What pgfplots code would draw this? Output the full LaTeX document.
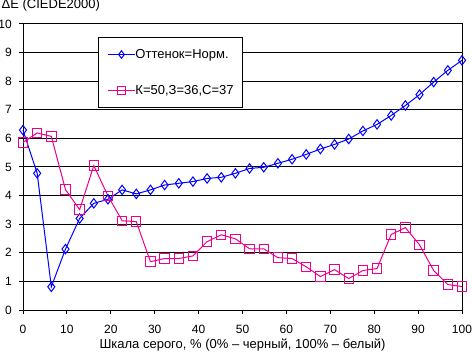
\documentclass[border=0pt]{standalone}
\usepackage{fontspec}
\setmainfont{Liberation Sans}
\usepackage{pgfplots}
\pgfplotsset{compat=1.18}
\usepackage{pgfplotstable}

\pgfplotstableread{
x y
0.000 6.29
3.226 4.78
6.452 0.81
9.677 2.13
12.903 3.20
16.129 3.73
19.355 3.87
22.581 4.20
25.806 4.06
29.032 4.20
32.258 4.37
35.484 4.43
38.710 4.49
41.935 4.60
45.161 4.64
48.387 4.78
51.613 4.95
54.839 4.99
58.065 5.13
61.290 5.27
64.516 5.44
67.742 5.63
70.968 5.79
74.194 5.98
77.419 6.26
80.645 6.49
83.871 6.80
87.097 7.15
90.323 7.53
93.548 7.97
96.774 8.38
100.000 8.73
}\hue

\pgfplotstableread{
x y
0.000 5.86
3.226 6.19
6.452 6.07
9.677 4.21
12.903 3.51
16.129 5.05
19.355 3.99
22.581 3.12
25.806 3.09
29.032 1.69
32.258 1.80
35.484 1.80
38.710 1.89
41.935 2.39
45.161 2.63
48.387 2.49
51.613 2.14
54.839 2.14
58.065 1.83
61.290 1.80
64.516 1.51
67.742 1.17
70.968 1.41
74.194 1.10
77.419 1.38
80.645 1.45
83.871 2.64
87.097 2.88
90.323 2.28
93.548 1.38
96.774 0.89
100.000 0.82
}\kzs

\begin{document}
\begin{tikzpicture}
\path[use as bounding box] (-23bp,-43bp) rectangle (449bp,310bp);
\begin{axis}[
  at={(0,0)}, anchor=south west,
  scale only axis, width=439bp, height=286bp,
  xmin=0, xmax=100, ymin=0, ymax=10,
  xtick={0,10,...,100}, ytick={0,1,...,10},
  ymajorgrids,
  grid style={black, line width=1bp},
  axis line style={black, line width=1bp},
  tick style={black, line width=1bp},
  tick align=outside, major tick length=4bp,
  xtick pos=bottom, ytick pos=left,
  clip=false,
  /pgf/number format/assume math mode=true,
  ticklabel style={font=\fontsize{12bp}{14bp}\selectfont, inner sep=0pt},
  yticklabel style={anchor=east, xshift=-7bp},
  xticklabel style={anchor=north, yshift=-10.5bp},
  title={ΔE (CIEDE2000)},
  title style={at={(axis description cs:0,1)}, anchor=base west, xshift=-21.5bp, yshift=9.5bp, inner sep=0pt, font=\fontsize{13bp}{15bp}\selectfont},
  xlabel={Шкала серого, \% (0\% – черный, 100\% – белый)},
  xlabel style={at={(axis description cs:0.5,0)}, anchor=base, yshift=-38.5bp, inner sep=0pt, font=\fontsize{13bp}{15bp}\selectfont},
  legend cell align=left,
  legend image code/.code={\draw[mark repeat=2,mark phase=2,#1,/tikz/every mark/.append style={scale=0.8}] plot coordinates {(0bp,0bp) (13.5bp,0bp) (27bp,0bp)};},
  legend style={at={(0.1708,0.9545)}, anchor=north west, draw=black, line width=1bp, fill=white,
    font=\fontsize{13bp}{15bp}\selectfont, inner xsep=9bp, inner ysep=11bp, row sep=24bp,
    nodes={inner sep=0pt, text height=9.5bp, text depth=2.5bp},
    /tikz/every even column/.append style={column sep=5bp}},
]
\addplot[color=blue, line width=1bp, mark=diamond, mark size=4.7bp, mark options={fill=white, solid}] table {\hue};
\addlegendentry{Оттенок=Норм.}
\addplot[color=magenta, line width=1bp, mark=square, mark size=4.7bp, mark options={fill=white, solid}] table {\kzs};
\addlegendentry{К=50,З=36,С=37}
\end{axis}
\end{tikzpicture}
\end{document}
